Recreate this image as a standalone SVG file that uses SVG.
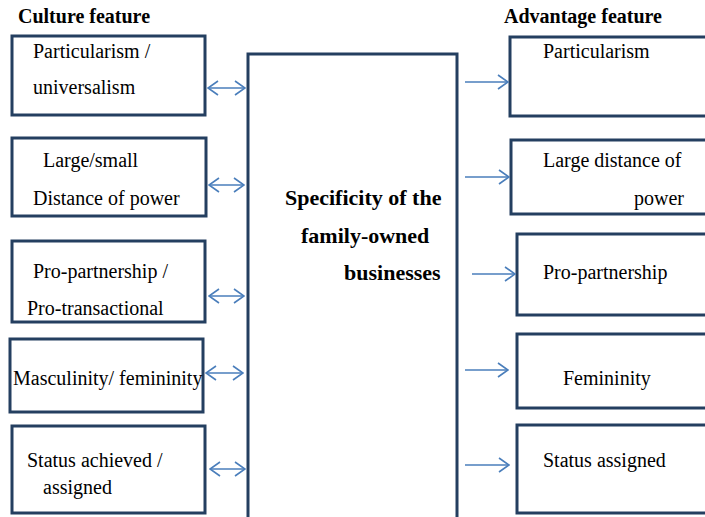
<svg xmlns="http://www.w3.org/2000/svg" width="705" height="517" viewBox="0 0 705 517">
  <defs>
    <style>
      .box { fill: #ffffff; stroke: #243f60; stroke-width: 3; }
      .t { font-family: "Liberation Serif", "Times New Roman", serif; font-size: 20px; fill: #000000; }
      .h { font-family: "Liberation Serif", "Times New Roman", serif; font-size: 20px; font-weight: bold; fill: #000000; }
      .c { font-family: "Liberation Serif", "Times New Roman", serif; font-size: 22px; font-weight: bold; fill: #000000; }
      .arr { fill: none; stroke: #4a7ebb; stroke-width: 1.6; }
    </style>
    <marker id="head" viewBox="0 0 12 16" refX="11" refY="8" markerWidth="12" markerHeight="16" markerUnits="userSpaceOnUse" orient="auto-start-reverse">
      <path d="M1,1 L11,8 L1,15" fill="none" stroke="#4a7ebb" stroke-width="1.6"/>
    </marker>
  </defs>

  <rect width="705" height="517" fill="#ffffff"/>

  <!-- column headings -->
  <text class="h" x="18" y="23">Culture feature</text>
  <text class="h" x="504" y="23">Advantage feature</text>

  <!-- central node -->
  <g id="center">
    <rect class="box" x="248" y="54" width="209" height="470"/>
    <text class="c" x="285" y="205">Specificity of the</text>
    <text class="c" x="301" y="243">family-owned</text>
    <text class="c" x="344" y="280">businesses</text>
  </g>

  <!-- culture feature nodes -->
  <g id="c1">
    <rect class="box" x="12" y="36" width="193" height="79"/>
    <text class="t" x="33" y="58">Particularism /</text>
    <text class="t" x="33" y="94">universalism</text>
  </g>
  <g id="c2">
    <rect class="box" x="12" y="138" width="194" height="78"/>
    <text class="t" x="43" y="167">Large/small</text>
    <text class="t" x="33" y="205">Distance of power</text>
  </g>
  <g id="c3">
    <rect class="box" x="12" y="241" width="193" height="81"/>
    <text class="t" x="33" y="278">Pro-partnership /</text>
    <text class="t" x="27" y="315">Pro-transactional</text>
  </g>
  <g id="c4">
    <rect class="box" x="10" y="339" width="193" height="73"/>
    <text class="t" x="13" y="385">Masculinity/ femininity</text>
  </g>
  <g id="c5">
    <rect class="box" x="12" y="426" width="193" height="87"/>
    <text class="t" x="27" y="467">Status achieved /</text>
    <text class="t" x="43" y="494">assigned</text>
  </g>

  <!-- advantage feature nodes -->
  <g id="a1">
    <rect class="box" x="510" y="37" width="210" height="79"/>
    <text class="t" x="543" y="58">Particularism</text>
  </g>
  <g id="a2">
    <rect class="box" x="511" y="140" width="210" height="74"/>
    <text class="t" x="543" y="167">Large distance of</text>
    <text class="t" x="634" y="205">power</text>
  </g>
  <g id="a3">
    <rect class="box" x="517" y="234" width="210" height="81"/>
    <text class="t" x="543" y="279">Pro-partnership</text>
  </g>
  <g id="a4">
    <rect class="box" x="517" y="334" width="210" height="74"/>
    <text class="t" x="563" y="385">Femininity</text>
  </g>
  <g id="a5">
    <rect class="box" x="517" y="425" width="210" height="88"/>
    <text class="t" x="543" y="467">Status assigned</text>
  </g>

  <!-- connectors -->
  <g id="connectors">
    <line class="arr" x1="208" y1="88" x2="245" y2="88" marker-start="url(#head)" marker-end="url(#head)"/>
    <line class="arr" x1="209" y1="185" x2="244" y2="185" marker-start="url(#head)" marker-end="url(#head)"/>
    <line class="arr" x1="209" y1="296" x2="244" y2="296" marker-start="url(#head)" marker-end="url(#head)"/>
    <line class="arr" x1="206" y1="373" x2="243" y2="373" marker-start="url(#head)" marker-end="url(#head)"/>
    <line class="arr" x1="210" y1="469" x2="245" y2="469" marker-start="url(#head)" marker-end="url(#head)"/>

    <line class="arr" x1="465" y1="82" x2="508" y2="82" marker-end="url(#head)"/>
    <line class="arr" x1="465" y1="177" x2="509" y2="177" marker-end="url(#head)"/>
    <line class="arr" x1="472" y1="274" x2="515" y2="274" marker-end="url(#head)"/>
    <line class="arr" x1="465" y1="370" x2="508" y2="370" marker-end="url(#head)"/>
    <line class="arr" x1="465" y1="465" x2="509" y2="465" marker-end="url(#head)"/>
  </g>
</svg>
